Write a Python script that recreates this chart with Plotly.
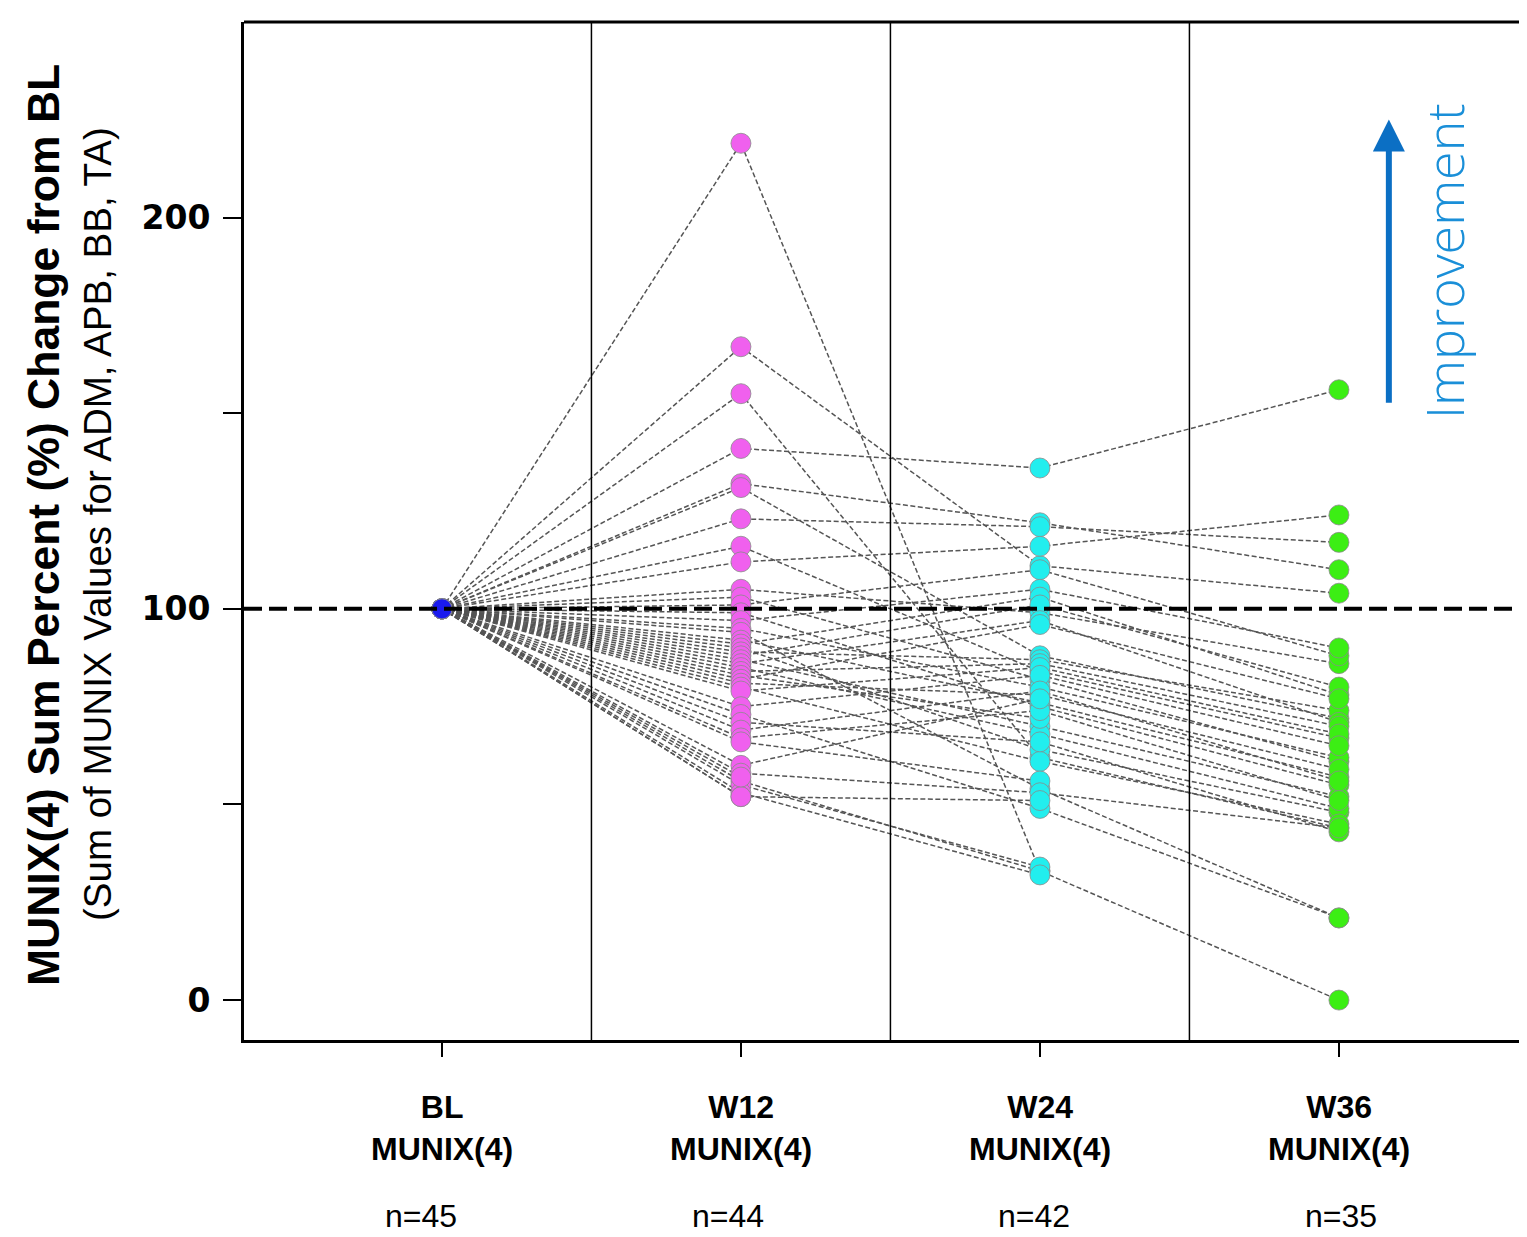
import plotly.graph_objects as go

# ---- data (percent of baseline, one entry per patient; None = missing visit) ----
visits = ["BL", "W12", "W24", "W36"]
n_labels = ["n=45", "n=44", "n=42", "n=35"]

BL = [100, 100, 100, 100, 100, 100, 100, 100, 100, 100, 100, 100, 100, 100, 100,
      100, 100, 100, 100, 100, 100, 100, 100, 100, 100, 100, 100, 100, 100, 100,
      100, 100, 100, 100, 100, 100, 100, 100, 100, 100, 100, 100, 100, 100, 100]
W12 = [219, 167, 155, 141, 132, 131, 123, 116, 112, 105, 103, 101, 99, 97, 95,
       94, 92, 91, 90, 89, 88, 87, 86, 85, 84, 83, 82, 81, 80, 79,
       75, 73, 71, 69, 67, 66, 60, 58, 56, 55, 53, 52, 52, 57, None]
W24 = [33, 111, 62, 136, 122, 88, 121, 84, 116, 99, 82, 110, 75, 105, 80,
       54, 76, 103, 64, 87, 101, 70, 97, 68, 86, 72, 96, 78, 61, 85,
       83, 49, 66, 79, 74, 56, 77, 53, 33, 34, 32, 51, None, None, None]
W36 = [0, 104, 44, 156, 110, 72, 117, 67, 124, 86, 61, 88, 55, 90, 62,
       21, 57, 78, 48, 74, 80, 52, 71, 49, 70, None, 77, 59, 45, 68,
       65, 21, 43, 56, 51, None, None, 44, None, None, None, None, None, None, None]

marker_colors = ["#1a1aee", "#f060ee", "#22eeee", "#3cee14"]

# page offset of the figure (default body margin)
OFF = 8
PL, PT, PB, PR = 244, 22, 1040, 1527          # plot area in page pixels
PW, PH = PR - PL, PB - PT


def px_x(px):
    return (px - PL) / PW


def px_y(py):
    return (PB - py) / PH


fig = go.Figure()

# connecting lines per patient
for i in range(len(BL)):
    fig.add_trace(go.Scatter(
        x=[0, 1, 2, 3], y=[BL[i], W12[i], W24[i], W36[i]],
        mode="lines", connectgaps=False, hoverinfo="skip", showlegend=False,
        line=dict(color="#555555", width=1.5, dash="5px,2.5px")))

# markers per visit
for k, series in enumerate([BL, W12, W24, W36]):
    ys = [v for v in series if v is not None]
    fig.add_trace(go.Scatter(
        x=[k] * len(ys), y=ys, mode="markers", showlegend=False,
        marker=dict(size=20, color=marker_colors[k],
                    line=dict(color="#8a8a8a", width=0.8))))

# reference line at 100
fig.add_shape(type="line", xref="paper", x0=0, x1=1, yref="y", y0=100, y1=100,
              line=dict(color="black", width=4, dash="18px,7px"))
# vertical separators
for xv in [0.5, 1.5, 2.5]:
    fig.add_shape(type="line", xref="x", x0=xv, x1=xv, yref="paper", y0=0, y1=1,
                  line=dict(color="black", width=1.5))
# top border
fig.add_shape(type="line", xref="paper", x0=0, x1=1, yref="paper", y0=1, y1=1,
              line=dict(color="black", width=3))

# Improvement arrow
fig.add_shape(type="line", xref="x", yref="y", x0=3.167, x1=3.167, y0=152.7, y1=218,
              line=dict(color="#0b6fc4", width=6))
fig.add_shape(type="path", xref="x", yref="y",
              path="M 3.1135 216.9 L 3.167 225.1 L 3.2205 216.9 Z",
              fillcolor="#0b6fc4", line=dict(color="#0b6fc4", width=0))
fig.add_annotation(x=px_x(1443), y=px_y(261), xref="paper", yref="paper", text="Improvement",
                   textangle=-90, showarrow=False, xanchor="center", yanchor="middle",
                   font=dict(family="Open Sans", size=52, color="#1a8fd8", weight=300))

# category labels below axis
for k in range(4):
    fig.add_annotation(x=k, y=px_y(1128), xref="x", yref="paper",
                       text="<b>%s<br>MUNIX(4)</b>" % visits[k], showarrow=False,
                       xanchor="center", yanchor="middle",
                       font=dict(family="Liberation Sans", size=32, color="black"))
    fig.add_annotation(x=k + [-0.07, -0.043, -0.02, 0.007][k], y=px_y(1236), xref="x", yref="paper",
                       text=n_labels[k], showarrow=False, xanchor="center", yanchor="bottom",
                       font=dict(family="Liberation Sans", size=32, color="black"))

# y-axis titles
fig.add_annotation(x=px_x(43), y=px_y(525), xref="paper", yref="paper",
                   text="<b>MUNIX(4) Sum Percent (%) Change from BL</b>", textangle=-90,
                   showarrow=False, xanchor="center", yanchor="middle",
                   font=dict(family="Liberation Sans", size=44.5, color="black"))
fig.add_annotation(x=px_x(97), y=px_y(524), xref="paper", yref="paper",
                   text="(Sum of MUNIX Values for ADM, APB, BB, TA)", textangle=-90,
                   showarrow=False, xanchor="center", yanchor="middle",
                   font=dict(family="Liberation Sans", size=38.5, color="black"))

W, H = 1527 - OFF, 1237 - OFF
fig.update_layout(
    width=W, height=H,
    margin=dict(l=PL - OFF, r=0, t=PT - OFF, b=H - (PB - OFF)),
    paper_bgcolor="white", plot_bgcolor="white",
    xaxis=dict(range=[-0.662, 3.629], tickvals=[0, 1, 2, 3], showticklabels=False,
               ticks="outside", ticklen=14, tickwidth=2, tickcolor="black",
               showgrid=False, zeroline=False, showline=True, linewidth=3, linecolor="black"),
    yaxis=dict(range=[-10.2, 250], tickvals=[0, 50, 100, 150, 200],
               ticktext=["0", "", "100", "", "200"],
               ticks="outside", ticklen=18, tickwidth=2, tickcolor="black",
               ticklabelstandoff=6,
               tickfont=dict(family="DejaVu Sans", size=33, color="black", weight="bold"),
               showgrid=False, zeroline=False, showline=True, linewidth=3, linecolor="black"),
)

fig.write_html("out.html")
